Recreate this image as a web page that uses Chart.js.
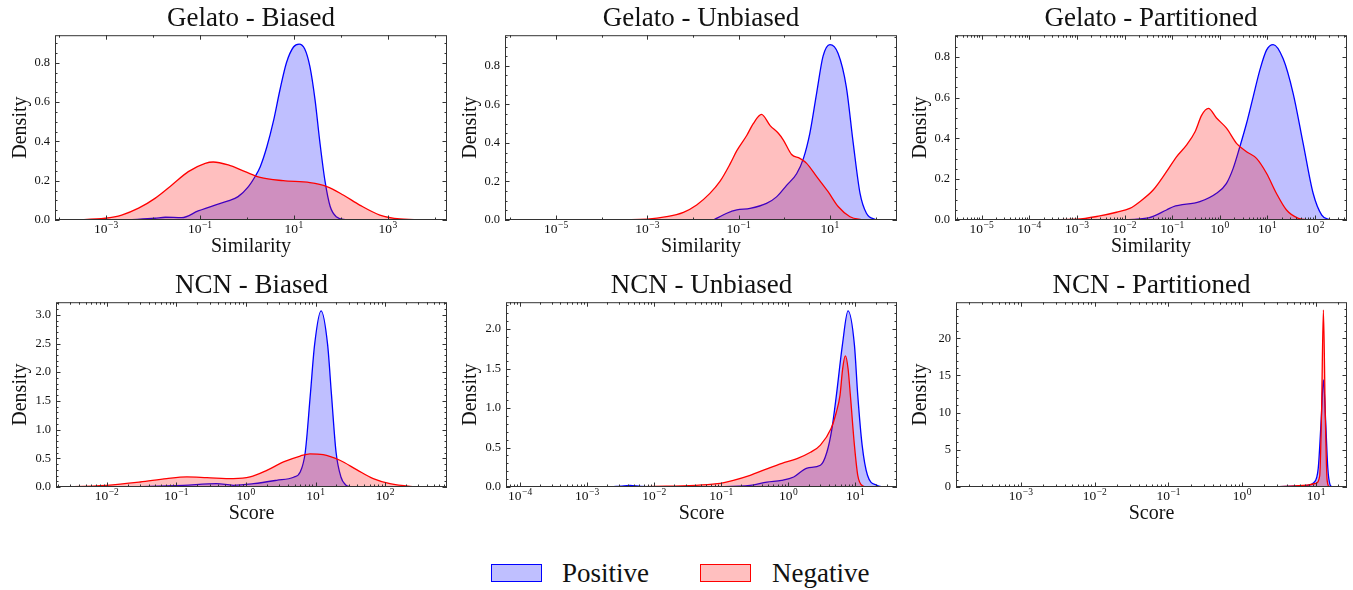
<!DOCTYPE html>
<html>
<head>
<meta charset="utf-8">
<script src="https://cdn.jsdelivr.net/npm/chart.js@4.4.1/dist/chart.umd.min.js"></script>
<style>
  body { margin: 0; background: #fff; }
  #wrap { position: relative; width: 1353px; height: 590px; font-family: "Liberation Serif", serif; }
  #wrap canvas { position: absolute; }
  .key { position: absolute; top: 564px; width: 49px; height: 16px; border: 1.5px solid; }
  .lab { position: absolute; top: 558px; font-size: 27px; line-height: 30px; color: #111; }
</style>
</head>
<body>
<div id="wrap">
  <div class="key" style="left:491px;border-color:#0000ff;background:rgba(0,0,255,0.25)"></div>
  <div class="lab" style="left:562px">Positive</div>
  <div class="key" style="left:700px;border-color:#ff0000;background:rgba(255,0,0,0.25)"></div>
  <div class="lab" style="left:772px">Negative</div>
</div>
<script>
// x values are log10 of the score / similarity, y values are the density

// Gelato - Biased
const gbPosX = [-2.53, -1.96, -1.74, -1.39, -1.04, -0.68, -0.40, -0.19, 0.03, 0.17, 0.28, 0.42, 0.56, 0.70, 0.84, 0.99, 1.11, 1.23, 1.34, 1.45, 1.55, 1.66, 1.77, 1.91, 2.12];
const gbPosY = [0, 0.009, 0.014, 0.012, 0.046, 0.076, 0.097, 0.119, 0.17, 0.22, 0.27, 0.37, 0.50, 0.66, 0.80, 0.88, 0.895, 0.87, 0.78, 0.61, 0.40, 0.20, 0.07, 0.015, 0];
const gbNegX = [-3.7, -3.02, -2.67, -2.31, -1.96, -1.60, -1.25, -0.89, -0.72, -0.40, -0.04, 0.28, 0.77, 1.34, 1.70, 2.05, 2.40, 2.83, 3.26, 3.89];
const gbNegY = [0, 0.009, 0.025, 0.06, 0.11, 0.178, 0.246, 0.288, 0.295, 0.28, 0.246, 0.217, 0.2, 0.19, 0.17, 0.127, 0.076, 0.025, 0.005, 0];

// Gelato - Unbiased
const guPosX = [-1.55, -1.26, -1.04, -0.75, -0.39, -0.17, 0.05, 0.27, 0.42, 0.56, 0.71, 0.85, 1.0, 1.18, 1.36, 1.51, 1.66, 1.80, 2.02];
const guPosY = [0, 0.035, 0.052, 0.06, 0.086, 0.12, 0.18, 0.24, 0.32, 0.45, 0.66, 0.85, 0.91, 0.864, 0.69, 0.4, 0.138, 0.035, 0];
const guNegX = [-5.72, -4.0, -3.0, -2.58, -2.21, -1.92, -1.63, -1.41, -1.19, -1.04, -0.82, -0.68, -0.50, -0.31, -0.13, -0.02, 0.16, 0.34, 0.49, 0.71, 0.96, 1.18, 1.44, 1.73];
const guNegY = [0, 0.001, 0.005, 0.017, 0.04, 0.078, 0.138, 0.2, 0.29, 0.36, 0.44, 0.5, 0.548, 0.49, 0.45, 0.415, 0.34, 0.32, 0.294, 0.225, 0.147, 0.07, 0.017, 0];

// Gelato - Partitioned
const gpPosX = [-2.10, -1.5, -1.12, -0.98, -0.42, -0.07, 0.14, 0.28, 0.42, 0.56, 0.70, 0.84, 0.98, 1.12, 1.33, 1.54, 1.75, 1.96, 2.14, 2.31];
const gpPosY = [0, 0.01, 0.049, 0.065, 0.090, 0.131, 0.18, 0.253, 0.359, 0.473, 0.604, 0.735, 0.833, 0.86, 0.79, 0.62, 0.375, 0.13, 0.024, 0];
const gpNegX = [-5.52, -4.0, -3.0, -2.52, -2.17, -1.89, -1.68, -1.40, -1.12, -0.91, -0.70, -0.52, -0.38, -0.24, -0.07, 0.14, 0.35, 0.56, 0.77, 0.98, 1.19, 1.40, 1.65, 1.89];
const gpNegY = [0, 0.001, 0.004, 0.02, 0.038, 0.057, 0.09, 0.147, 0.237, 0.31, 0.367, 0.433, 0.514, 0.547, 0.5, 0.45, 0.376, 0.335, 0.302, 0.229, 0.13, 0.049, 0.008, 0];

// NCN - Biased
const nbPosX = [-1.62, -0.90, -0.42, -0.18, 0.11, 0.44, 0.685, 0.78, 0.853, 0.925, 0.987, 1.08, 1.174, 1.23, 1.295, 1.367, 1.43, 1.50];
const nbPosY = [0, 0.03, 0.058, 0.03, 0.058, 0.117, 0.17, 0.26, 0.61, 1.60, 2.48, 3.07, 2.48, 1.60, 0.61, 0.17, 0.04, 0];
const nbNegX = [-2.72, -2.0, -1.52, -1.14, -0.85, -0.56, -0.18, 0.06, 0.30, 0.54, 0.78, 0.92, 1.11, 1.35, 1.59, 1.83, 2.07, 2.36, 2.65];
const nbNegY = [0, 0.03, 0.087, 0.146, 0.175, 0.163, 0.146, 0.175, 0.29, 0.437, 0.54, 0.577, 0.565, 0.466, 0.303, 0.146, 0.058, 0.012, 0];

// NCN - Unbiased
const nuPosX = [-4.2, -2.7, -2.5, -2.36, -2.2, -2.0, -1.0, -0.57, -0.32, -0.1, 0.08, 0.28, 0.478, 0.574, 0.65, 0.716, 0.806, 0.89, 0.985, 1.035, 1.10, 1.18, 1.32, 1.42];
const nuPosY = [0, 0, 0.012, 0.02, 0.008, 0.003, 0.005, 0.02, 0.063, 0.085, 0.127, 0.24, 0.275, 0.44, 0.74, 1.16, 1.80, 2.23, 1.80, 1.16, 0.53, 0.148, 0.02, 0];
const nuNegX = [-4.2, -3.0, -2.0, -1.06, -0.82, -0.57, -0.32, -0.095, 0.13, 0.33, 0.478, 0.637, 0.716, 0.77, 0.81, 0.85, 0.89, 0.925, 0.985, 1.035, 1.10, 1.2];
const nuNegY = [0, 0.003, 0.008, 0.042, 0.085, 0.148, 0.23, 0.30, 0.36, 0.44, 0.53, 0.74, 0.95, 1.16, 1.50, 1.66, 1.50, 1.16, 0.53, 0.148, 0.02, 0];

// NCN - Partitioned
const npPosX = [-3.88, -0.5, 0.5, 0.88, 0.97, 1.03, 1.07, 1.10, 1.13, 1.16, 1.19, 1.22];
const npPosY = [0, 0, 0.05, 0.2, 0.6, 2.5, 9, 14.4, 9, 2.5, 0.3, 0];
const npNegX = [-3.88, -0.5, 0.5, 0.88, 1.0, 1.05, 1.075, 1.10, 1.125, 1.15, 1.18];
const npNegY = [0, 0, 0.05, 0.25, 0.5, 1.5, 10, 23.8, 10, 1.0, 0];

const panels = [
  { title: 'Gelato - Biased', xTitle: 'Similarity', xMin: -4.09, xMax: 4.26, yMax: 0.94, yStep: 0.2, yMinor: 0.05, dec: 1, decStep: 2, pos: [gbPosX, gbPosY], neg: [gbNegX, gbNegY] },
  { title: 'Gelato - Unbiased', xTitle: 'Similarity', xMin: -6.12, xMax: 2.47, yMax: 0.959, yStep: 0.2, yMinor: 0.05, dec: 1, decStep: 2, pos: [guPosX, guPosY], neg: [guNegX, guNegY] },
  { title: 'Gelato - Partitioned', xTitle: 'Similarity', xMin: -5.56, xMax: 2.67, yMax: 0.906, yStep: 0.2, yMinor: 0.05, dec: 1, decStep: 1, pos: [gpPosX, gpPosY], neg: [gpNegX, gpNegY] },
  { title: 'NCN - Biased', xTitle: 'Score', xMin: -2.73, xMax: 2.89, yMax: 3.22, yStep: 0.5, yMinor: 0.1, dec: 1, decStep: 1, pos: [nbPosX, nbPosY], neg: [nbNegX, nbNegY] },
  { title: 'NCN - Unbiased', xTitle: 'Score', xMin: -4.21, xMax: 1.62, yMax: 2.34, yStep: 0.5, yMinor: 0.1, dec: 1, decStep: 1, pos: [nuPosX, nuPosY], neg: [nuNegX, nuNegY] },
  { title: 'NCN - Partitioned', xTitle: 'Score', xMin: -3.88, xMax: 1.42, yMax: 24.85, yStep: 5, yMinor: 1, dec: 0, decStep: 1, pos: [npPosX, npPosY], neg: [npNegX, npNegY] }
];

const FONT = '"Liberation Serif", "DejaVu Serif", serif';
const INK = '#111';

// matplotlib-ish frame: inward ticks on all four sides, log minor ticks, 10^k labels
const axesStyle = {
  id: 'axesStyle',
  afterDraw(chart, args, opts) {
    const { ctx, chartArea: a, scales: { x, y } } = chart;
    ctx.save();
    ctx.strokeStyle = '#333';
    ctx.lineWidth = 1;
    ctx.strokeRect(a.left + 0.5, a.top + 0.5, a.right - a.left - 1, a.bottom - a.top - 1);

    const vTick = (px, len) => {
      ctx.beginPath();
      ctx.moveTo(px, a.bottom); ctx.lineTo(px, a.bottom - len);
      ctx.moveTo(px, a.top); ctx.lineTo(px, a.top + len);
      ctx.stroke();
    };
    const hTick = (py, len) => {
      ctx.beginPath();
      ctx.moveTo(a.left, py); ctx.lineTo(a.left + len, py);
      ctx.moveTo(a.right, py); ctx.lineTo(a.right - len, py);
      ctx.stroke();
    };

    const lo = opts.xMin, hi = opts.xMax;
    const majors = [];
    for (let d = Math.floor(lo) - 1; d <= Math.ceil(hi); d++) {
      const isMajor = opts.decStep === 1 || Math.abs(d) % 2 === 1;
      if (d >= lo && d <= hi) {
        if (isMajor) { vTick(Math.round(x.getPixelForValue(10 ** d)) + 0.5, 4.5); majors.push(d); }
        else vTick(Math.round(x.getPixelForValue(10 ** d)) + 0.5, 2.5);
      }
      if (opts.decStep === 1) {
        for (let k = 2; k <= 9; k++) {
          const v = Math.log10(k) + d;
          if (v > lo && v < hi) vTick(Math.round(x.getPixelForValue(10 ** v)) + 0.5, 2.5);
        }
      }
    }

    for (let v = 0; v <= opts.yMax + 1e-9; v += opts.yMinor) {
      const isMajor = Math.abs(v / opts.yStep - Math.round(v / opts.yStep)) < 1e-6;
      const py = Math.round(y.getPixelForValue(v)) + 0.5;
      if (py < a.top + 1) continue;
      hTick(py, isMajor ? 4.5 : 2.5);
    }

    // x tick labels as 10 with a raised exponent
    ctx.fillStyle = INK;
    ctx.textBaseline = 'alphabetic';
    majors.forEach(d => {
      const base = '10';
      const exp = d < 0 ? '\u2212' + Math.abs(d) : String(d);
      ctx.font = '13.5px ' + FONT;
      const w1 = ctx.measureText(base).width;
      ctx.font = '9.5px ' + FONT;
      const w2 = ctx.measureText(exp).width;
      const px = x.getPixelForValue(10 ** d);
      const start = px - (w1 + w2 + 0.5) / 2;
      ctx.font = '13.5px ' + FONT;
      ctx.fillText(base, start, a.bottom + 13);
      ctx.font = '9.5px ' + FONT;
      ctx.fillText(exp, start + w1 + 0.5, a.bottom + 7.5);
    });
    ctx.restore();
  }
};

const wrap = document.getElementById('wrap');

panels.forEach((p, i) => {
  const col = i % 3, row = Math.floor(i / 3);
  const yAxisW = row === 0 ? 55 : 56;
  const canvas = document.createElement('canvas');
  canvas.width = 453;
  canvas.height = 265;
  canvas.style.left = (col * 450) + 'px';
  canvas.style.top = (row === 0 ? 0 : 267) + 'px';
  wrap.appendChild(canvas);

  const toPoints = (xs, ys) => xs.map((v, j) => ({ x: 10 ** v, y: ys[j] }));

  new Chart(canvas, {
    type: 'line',
    data: {
      datasets: [
        {
          label: 'Negative',
          data: toPoints(p.neg[0], p.neg[1]),
          borderColor: '#ff0000',
          backgroundColor: 'rgba(255,0,0,0.25)',
          fill: 'origin',
          order: 0
        },
        {
          label: 'Positive',
          data: toPoints(p.pos[0], p.pos[1]),
          borderColor: '#0000ff',
          backgroundColor: 'rgba(0,0,255,0.25)',
          fill: 'origin',
          order: 1
        }
      ]
    },
    options: {
      responsive: false,
      animation: false,
      devicePixelRatio: 1,
      layout: { padding: { right: 6 } },
      elements: {
        point: { radius: 0 },
        line: { borderWidth: 1.3, cubicInterpolationMode: 'monotone' }
      },
      scales: {
        x: {
          type: 'logarithmic',
          min: 10 ** p.xMin,
          max: 10 ** p.xMax,
          grid: { display: false, drawTicks: false },
          border: { display: false },
          ticks: { display: false },
          title: { display: true, text: p.xTitle, color: INK, font: { family: FONT, size: 20 }, padding: 6 },
          afterFit: s => { s.height = 45; }
        },
        y: {
          type: 'linear',
          min: 0,
          max: p.yMax,
          grid: { display: false, drawTicks: false },
          border: { display: false },
          ticks: {
            stepSize: p.yStep,
            includeBounds: false,
            padding: 5,
            color: INK,
            font: { family: FONT, size: 12.5 },
            callback: v => Number(v).toFixed(p.dec)
          },
          title: { display: true, text: 'Density', color: INK, font: { family: FONT, size: 20 }, padding: 9 },
          afterFit: s => { s.width = yAxisW; }
        }
      },
      plugins: {
        legend: { display: false },
        tooltip: { enabled: false },
        title: {
          display: true,
          fullSize: false,
          text: p.title,
          color: INK,
          font: { family: FONT, size: 27, weight: 'normal' },
          padding: { top: 2.8, bottom: 0 }
        },
        axesStyle: p
      }
    },
    plugins: [axesStyle]
  });
});
</script>
</body>
</html>
